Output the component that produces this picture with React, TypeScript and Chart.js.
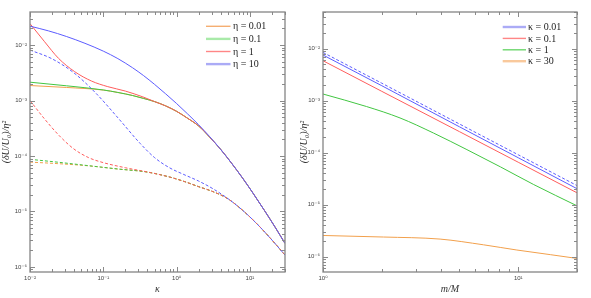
import { useEffect, useRef } from "react";
import { Chart, registerables } from "chart.js";

Chart.register(...registerables);

// ---------------- data: left panel (x = κ) ----------------
const kBlueSolid = [0.01, 0.0178, 0.0316, 0.0562, 0.1, 0.158, 0.251, 0.355, 0.501, 0.708, 1, 1.41, 2.0, 2.82, 3.98, 5.62, 7.94, 11.2, 15.8, 22.4, 30];
const uBlueSolid = [0.02188, 0.01803, 0.01422, 0.01074, 0.007762, 0.005689, 0.00389, 0.002805, 0.00195, 0.001321, 0.000881, 0.000574, 0.000365, 0.000224, 0.000132, 7.41e-5, 4.0e-5, 2.07e-5, 1.04e-5, 5.05e-6, 2.67e-6];

const kRedSolid = [0.01, 0.0158, 0.0245, 0.0407, 0.0692, 0.115, 0.2, 0.347, 0.501, 0.708, 1, 1.41, 2.0, 2.82, 3.98, 5.62, 7.94, 11.2, 15.8, 22.4, 30];
const uRedSolid = [0.02427, 0.01148, 0.005754, 0.003311, 0.002239, 0.001778, 0.001479, 0.001161, 0.000955, 0.0008, 0.000638, 0.000479, 0.000347, 0.000219, 0.000132, 7.41e-5, 4.0e-5, 2.07e-5, 1.04e-5, 5.05e-6, 2.67e-6];

const kGreenSolid = [0.01, 0.0316, 0.1, 0.158, 0.251, 0.355, 0.501, 0.708, 1, 1.41, 2.0, 2.82, 3.98, 5.62, 7.94, 11.2, 15.8, 22.4, 30];
const uGreenSolid = [0.002138, 0.001841, 0.001549, 0.001396, 0.00123, 0.001089, 0.000955, 0.0008, 0.000638, 0.000479, 0.000347, 0.000219, 0.000132, 7.41e-5, 4.0e-5, 2.07e-5, 1.04e-5, 5.05e-6, 2.67e-6];

const kOrangeSolid = [0.01, 0.0316, 0.1, 0.158, 0.251, 0.355, 0.501, 0.708, 1, 1.41, 2.0, 2.82, 3.98, 5.62, 7.94, 11.2, 15.8, 22.4, 30];
const uOrangeSolid = [0.001862, 0.001718, 0.001542, 0.001396, 0.00123, 0.001089, 0.000955, 0.0008, 0.000638, 0.000479, 0.000347, 0.000219, 0.000132, 7.41e-5, 4.0e-5, 2.07e-5, 1.04e-5, 5.05e-6, 2.67e-6];

const kBlueDashed = [0.01, 0.01995, 0.03981, 0.07943, 0.1585, 0.3162, 0.5012, 0.7943, 1.259, 1.995, 3.162, 5.012, 7.943, 12.59, 19.95, 30];
const uBlueDashed = [0.008128, 0.005649, 0.003141, 0.001349, 0.0004864, 0.0001698, 9.333e-5, 6.166e-5, 4.624e-5, 3.532e-5, 2.547e-5, 1.702e-5, 1.05e-5, 5.902e-6, 3.062e-6, 1.644e-6];

const kRedDashed = [0.01, 0.01585, 0.02512, 0.03981, 0.0631, 0.1, 0.1995, 0.3981, 0.7943, 1.259, 1.995, 3.162, 5.012, 7.943, 12.59, 19.95, 30];
const uRedDashed = [0.001, 0.0004624, 0.0002317, 0.0001334, 9.333e-5, 7.586e-5, 6.14e-5, 5.152e-5, 4.188e-5, 3.483e-5, 2.799e-5, 2.265e-5, 1.69e-5, 1.05e-5, 5.902e-6, 3.062e-6, 1.644e-6];

const kGreenDashed = [0.01, 0.02512, 0.0631, 0.1585, 0.3981, 0.7943, 1.259, 1.995, 3.162, 5.012, 7.943, 12.59, 19.95, 30];
const uGreenDashed = [8.71e-5, 7.674e-5, 6.683e-5, 5.821e-5, 5.129e-5, 4.188e-5, 3.483e-5, 2.799e-5, 2.265e-5, 1.69e-5, 1.05e-5, 5.902e-6, 3.062e-6, 1.644e-6];

const kOrangeDashed = [0.01, 0.02512, 0.0631, 0.1585, 0.3981, 0.7943, 1.259, 1.995, 3.162, 5.012, 7.943, 12.59, 19.95, 30];
const uOrangeDashed = [7.762e-5, 7.244e-5, 6.637e-5, 5.821e-5, 5.129e-5, 4.188e-5, 3.483e-5, 2.799e-5, 2.265e-5, 1.69e-5, 1.05e-5, 5.902e-6, 3.062e-6, 1.644e-6];

const etaLabels = ["η = 0.01", "η = 0.1", "η = 1", "η = 10"];

// ---------------- data: right panel (x = m/M) ----------------
const mBlueDashed = [1, 2, 5, 10, 20];
const vBlueDashed = [8.51e-3, 2.18e-3, 3.58e-4, 9.16e-5, 2.34e-5];
const mBlue = [1, 2, 5, 10, 20];
const vBlue = [7.59e-3, 1.95e-3, 3.16e-4, 8.04e-5, 2.04e-5];
const mRed = [1, 2, 5, 10, 20];
const vRed = [5.89e-3, 1.52e-3, 2.55e-4, 6.58e-5, 1.7e-5];
const mGreen = [1, 1.67, 2.48, 3.68, 5.46, 8.1, 12, 20];
const vGreen = [1.35e-3, 7.76e-4, 4.68e-4, 2.4e-4, 1.15e-4, 5.37e-5, 2.45e-5, 9.55e-6];
const mOrange = [1, 2.04, 3.98, 6.64, 9.84, 14.6, 20];
const vOrange = [2.57e-6, 2.4e-6, 2.19e-6, 1.7e-6, 1.35e-6, 1.1e-6, 9.3e-7];

const kappaLabels = ["κ = 0.01", "κ = 0.1", "κ = 1", "κ = 30"];

// ---------------- ticks ----------------
const kappaTickValues = [0.01, 0.1, 1, 10];
const kappaTickLabels = ["10⁻²", "10⁻¹", "10⁰", "10¹"];
const massTickValues = [1, 10];
const massTickLabels = ["10⁰", "10¹"];
const yTickValues = [1e-2, 1e-3, 1e-4, 1e-5, 1e-6];
const yTickLabels = ["10⁻²", "10⁻³", "10⁻⁴", "10⁻⁵", "10⁻⁶"];

const Y_TITLE = "(δU/U₀)/η²";

// ---------------- styles ----------------
const BLUE = "#5c5cff";
const RED = "#ff5c5c";
const GREEN = "#42c642";
const ORANGE = "#f2a04c";

const pts = (xs: number[], ys: number[]) => xs.map((x, i) => ({ x, y: ys[i] }));

const labelFor = (vals: number[], labels: string[]) => (v: any) => {
  const i = vals.findIndex((t) => Math.abs(Math.log10(t) - Math.log10(Number(v))) < 1e-6);
  return i >= 0 ? labels[i] : "";
};

const frameTicksPlugin = {
  id: "frameTicks",
  afterDatasetsDraw(chart: any) {
    const { ctx, chartArea: a, scales } = chart;
    const xs = scales.x;
    const ys = scales.y;
    const gen = (min: number, max: number) => {
      const out: { v: number; major: boolean }[] = [];
      for (let e = Math.floor(Math.log10(min)) - 1; e <= Math.ceil(Math.log10(max)); e++) {
        for (let m = 1; m <= 9; m++) {
          const v = m * Math.pow(10, e);
          if (v >= min * 0.9999 && v <= max * 1.0001) out.push({ v, major: m === 1 });
        }
      }
      return out;
    };
    ctx.save();
    ctx.strokeStyle = "#8a8a8a";
    ctx.lineWidth = 1;
    ctx.beginPath();
    for (const t of gen(xs.min, xs.max)) {
      const px = Math.round(xs.getPixelForValue(t.v)) + 0.5;
      const len = t.major ? 5 : 3;
      ctx.moveTo(px, a.bottom);
      ctx.lineTo(px, a.bottom - len);
      ctx.moveTo(px, a.top);
      ctx.lineTo(px, a.top + len);
    }
    for (const t of gen(ys.min, ys.max)) {
      const py = Math.round(ys.getPixelForValue(t.v)) + 0.5;
      const len = t.major ? 5 : 3;
      ctx.moveTo(a.left, py);
      ctx.lineTo(a.left + len, py);
      ctx.moveTo(a.right, py);
      ctx.lineTo(a.right - len, py);
    }
    ctx.stroke();
    ctx.strokeStyle = "#858585";
    ctx.lineWidth = 1.3;
    ctx.strokeRect(a.left, a.top, a.right - a.left, a.bottom - a.top);
    ctx.restore();
  },
  afterDraw(chart: any, _args: any, opts: any) {
    const items = opts && opts.items;
    if (!items) return;
    const { ctx, chartArea: a } = chart;
    ctx.save();
    ctx.font = "10px 'Liberation Serif', 'DejaVu Serif', serif";
    ctx.textBaseline = "middle";
    ctx.fillStyle = "#222";
    items.forEach((it: any, i: number) => {
      const y = a.top + opts.firstRow + i * opts.rowGap;
      ctx.strokeStyle = it.color;
      ctx.lineWidth = it.width;
      ctx.beginPath();
      ctx.moveTo(a.right - opts.lineStart, y);
      ctx.lineTo(a.right - opts.lineEnd, y);
      ctx.stroke();
      ctx.fillText(it.label, a.right - opts.textStart, y + 0.5);
    });
    ctx.restore();
  },
};

const line = (data: any[], color: string, dashed: boolean) => ({
  data,
  borderColor: color,
  borderWidth: 1,
  borderDash: dashed ? [3, 2] : [],
  pointRadius: 0,
  fill: false,
  cubicInterpolationMode: "monotone" as const,
});

function makeScales(
  xMin: number, xMax: number, xVals: number[], xLabels: string[], xTitle: string,
  yMin: number, yMax: number, yWidth: number, yTitlePad: number
) {
  const tickFont = { family: "'Liberation Sans', 'DejaVu Sans', sans-serif", size: 6 };
  return {
    x: {
      type: "logarithmic",
      min: xMin,
      max: xMax,
      grid: { display: false, drawTicks: false },
      border: { display: false },
      afterBuildTicks: (s: any) => {
        s.ticks = xVals.map((v) => ({ value: v }));
      },
      afterFit: (s: any) => {
        s.height = 26;
      },
      ticks: {
        autoSkip: false,
        maxRotation: 0,
        padding: 3,
        color: "#444",
        font: tickFont,
        callback: labelFor(xVals, xLabels),
      },
      title: {
        display: true,
        text: xTitle,
        color: "#333",
        padding: { top: 0, bottom: 3 },
        font: { family: "'Liberation Serif', 'DejaVu Serif', serif", style: "italic", size: 10 },
      },
    },
    y: {
      type: "logarithmic",
      min: yMin,
      max: yMax,
      grid: { display: false, drawTicks: false },
      border: { display: false },
      afterBuildTicks: (s: any) => {
        s.ticks = yTickValues.map((v) => ({ value: v }));
      },
      afterFit: (s: any) => {
        s.width = yWidth;
      },
      ticks: {
        autoSkip: false,
        padding: 3,
        color: "#444",
        font: tickFont,
        callback: labelFor(yTickValues, yTickLabels),
      },
      title: {
        display: true,
        text: Y_TITLE,
        color: "#333",
        padding: { top: yTitlePad, bottom: 0 },
        font: { family: "'Liberation Serif', 'DejaVu Serif', serif", style: "italic", size: 10 },
      },
    },
  };
}

function leftConfig(): any {
  return {
    type: "line",
    data: {
      datasets: [
        line(pts(kBlueSolid, uBlueSolid), BLUE, false),
        line(pts(kBlueDashed, uBlueDashed), BLUE, true),
        line(pts(kRedSolid, uRedSolid), RED, false),
        line(pts(kRedDashed, uRedDashed), RED, true),
        line(pts(kGreenSolid, uGreenSolid), GREEN, false),
        line(pts(kGreenDashed, uGreenDashed), GREEN, true),
        line(pts(kOrangeSolid, uOrangeSolid), ORANGE, false),
        line(pts(kOrangeDashed, uOrangeDashed), ORANGE, true),
      ],
    },
    options: {
      responsive: false,
      animation: false,
      parsing: false,
      layout: { padding: { top: 12, right: 11, bottom: 0, left: 0 } },
      scales: makeScales(0.01, 30.1, kappaTickValues, kappaTickLabels, "κ", 8.1e-7, 0.0394, 30, 0),
      plugins: {
        legend: { display: false },
        tooltip: { enabled: false },
        frameTicks: {
          firstRow: 14.3,
          rowGap: 12.6,
          lineStart: 79,
          lineEnd: 54.5,
          textStart: 52,
          items: [
            { label: etaLabels[0], color: "#f5ae72", width: 1.4 },
            { label: etaLabels[1], color: "#a9eaa9", width: 2.4 },
            { label: etaLabels[2], color: "#ff8686", width: 1.4 },
            { label: etaLabels[3], color: "#ababf6", width: 2.4 },
          ],
        },
      },
    },
    plugins: [frameTicksPlugin],
  };
}

function rightConfig(): any {
  return {
    type: "line",
    data: {
      datasets: [
        line(pts(mBlueDashed, vBlueDashed), BLUE, true),
        line(pts(mBlue, vBlue), BLUE, false),
        line(pts(mRed, vRed), RED, false),
        line(pts(mGreen, vGreen), GREEN, false),
        line(pts(mOrange, vOrange), ORANGE, false),
      ],
    },
    options: {
      responsive: false,
      animation: false,
      parsing: false,
      layout: { padding: { top: 12, right: 14, bottom: 0, left: 0 } },
      scales: makeScales(1, 20, massTickValues, massTickLabels, "m/M", 5.1e-7, 0.051, 27, 2),
      plugins: {
        legend: { display: false },
        tooltip: { enabled: false },
        frameTicks: {
          firstRow: 15,
          rowGap: 11.4,
          lineStart: 74.3,
          lineEnd: 51,
          textStart: 49,
          items: [
            { label: kappaLabels[0], color: "#ababf6", width: 2.4 },
            { label: kappaLabels[1], color: "#ff8686", width: 1.4 },
            { label: kappaLabels[2], color: "#6cd66c", width: 1.4 },
            { label: kappaLabels[3], color: "#f9c99c", width: 2.4 },
          ],
        },
      },
    },
    plugins: [frameTicksPlugin],
  };
}

function Panel({ make, left, width }: { make: () => any; left: number; width: number }) {
  const ref = useRef<HTMLCanvasElement | null>(null);
  useEffect(() => {
    if (!ref.current) return;
    const chart = new Chart(ref.current, make());
    return () => chart.destroy();
  }, []);
  return (
    <canvas
      ref={ref}
      width={width}
      height={298}
      style={{ position: "absolute", left, top: 0, width, height: 298 }}
    />
  );
}

export default function App() {
  return (
    <div style={{ position: "absolute", left: 0, top: 0, width: 591, height: 298, background: "#fff" }}>
      <Panel make={leftConfig} left={0} width={296} />
      <Panel make={rightConfig} left={296} width={295} />
    </div>
  );
}
